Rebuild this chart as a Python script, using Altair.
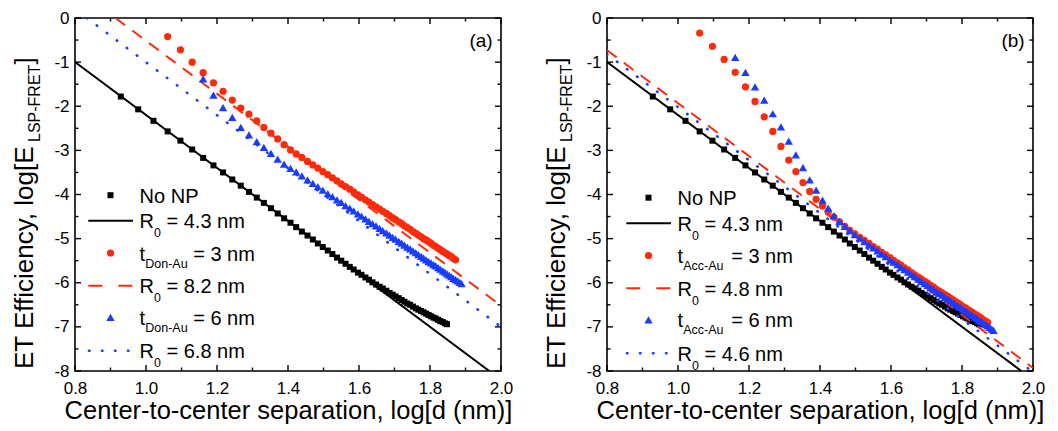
import altair as alt
import pandas as pd

# ---------------- data ----------------
# log10 of centre-to-centre separation d (nm)
X_SEP = [0.929, 0.978, 1.021, 1.061, 1.097, 1.130, 1.161, 1.190, 1.217, 1.243,
         1.267, 1.290, 1.312, 1.332, 1.352, 1.371, 1.389, 1.407, 1.423, 1.439,
         1.455, 1.470, 1.484, 1.498, 1.512, 1.525, 1.538, 1.550, 1.562, 1.574,
         1.585, 1.597, 1.607, 1.618, 1.628, 1.638, 1.648, 1.658, 1.667, 1.677,
         1.686, 1.695, 1.703, 1.712, 1.720, 1.728, 1.736, 1.744, 1.752, 1.760,
         1.767, 1.775, 1.782, 1.789, 1.796, 1.803, 1.810, 1.816, 1.823, 1.829,
         1.836, 1.842, 1.848, 1.854, 1.860, 1.866, 1.872, 1.878, 1.884, 1.889]
X_NO_NP = X_SEP[0:63]
X_T3 = X_SEP[3:67]
X_T6 = X_SEP[6:70]

NO_NP_Y = [-1.78, -2.07, -2.33, -2.57, -2.78, -2.98, -3.17, -3.34, -3.50, -3.66,
           -3.80, -3.94, -4.07, -4.19, -4.31, -4.43, -4.54, -4.64, -4.74, -4.84,
           -4.93, -5.02, -5.11, -5.19, -5.27, -5.35, -5.43, -5.50, -5.57, -5.64,
           -5.70, -5.77, -5.82, -5.88, -5.93, -5.99, -6.04, -6.09, -6.13, -6.18,
           -6.23, -6.27, -6.31, -6.35, -6.39, -6.43, -6.47, -6.50, -6.54, -6.58,
           -6.61, -6.64, -6.67, -6.70, -6.73, -6.76, -6.79, -6.81, -6.84, -6.87,
           -6.89, -6.92, -6.94]

RED_A_Y = [-0.42, -0.72, -1.00, -1.24, -1.47, -1.66, -1.86, -2.04, -2.18, -2.33,
           -2.48, -2.61, -2.74, -2.87, -2.99, -3.08, -3.16, -3.25, -3.33, -3.40,
           -3.48, -3.55, -3.62, -3.69, -3.76, -3.82, -3.88, -3.94, -4.01, -4.06,
           -4.12, -4.17, -4.23, -4.28, -4.33, -4.38, -4.43, -4.48, -4.53, -4.57,
           -4.62, -4.66, -4.71, -4.75, -4.79, -4.84, -4.88, -4.92, -4.96, -5.00,
           -5.03, -5.07, -5.11, -5.15, -5.18, -5.22, -5.25, -5.29, -5.32, -5.35,
           -5.38, -5.41, -5.45, -5.48]

BLUE_A_Y = [-1.38, -1.75, -2.03, -2.25, -2.48, -2.65, -2.80, -2.93, -3.07, -3.20,
            -3.31, -3.41, -3.49, -3.58, -3.67, -3.75, -3.82, -3.90, -3.98, -4.05,
            -4.12, -4.18, -4.25, -4.31, -4.37, -4.44, -4.49, -4.55, -4.61, -4.66,
            -4.71, -4.77, -4.82, -4.87, -4.92, -4.97, -5.01, -5.06, -5.10, -5.15,
            -5.19, -5.23, -5.28, -5.32, -5.36, -5.40, -5.44, -5.48, -5.52, -5.55,
            -5.59, -5.62, -5.66, -5.69, -5.73, -5.76, -5.80, -5.83, -5.86, -5.90,
            -5.93, -5.96, -5.99, -6.02]

RED_B_Y = [-0.34, -0.64, -0.94, -1.23, -1.56, -1.89, -2.24, -2.57, -2.91, -3.22,
           -3.48, -3.73, -3.93, -4.11, -4.26, -4.39, -4.51, -4.62, -4.72, -4.81,
           -4.89, -4.97, -5.04, -5.11, -5.18, -5.24, -5.31, -5.37, -5.43, -5.49,
           -5.55, -5.60, -5.66, -5.71, -5.77, -5.82, -5.87, -5.92, -5.97, -6.01,
           -6.06, -6.10, -6.15, -6.19, -6.23, -6.27, -6.31, -6.35, -6.39, -6.43,
           -6.46, -6.50, -6.54, -6.57, -6.61, -6.64, -6.67, -6.71, -6.74, -6.77,
           -6.80, -6.84, -6.87, -6.90]

BLUE_B_Y = [-0.89, -1.23, -1.56, -1.86, -2.17, -2.47, -2.79, -3.10, -3.39, -3.67,
            -3.90, -4.13, -4.31, -4.48, -4.61, -4.72, -4.82, -4.91, -4.99, -5.07,
            -5.14, -5.21, -5.28, -5.35, -5.41, -5.48, -5.53, -5.59, -5.65, -5.70,
            -5.76, -5.81, -5.86, -5.92, -5.97, -6.02, -6.06, -6.11, -6.15, -6.20,
            -6.24, -6.28, -6.33, -6.37, -6.41, -6.45, -6.49, -6.53, -6.56, -6.60,
            -6.64, -6.67, -6.71, -6.74, -6.78, -6.81, -6.85, -6.88, -6.91, -6.95,
            -6.98, -7.01, -7.05, -7.08]

# straight R0 fit lines (end points)
FIT_BLACK_X = [0.8, 1.967]
FIT_BLACK_Y = [-1.0, -8.0]
FIT_RED_A_X = [0.914, 2.0]
FIT_RED_A_Y = [0.0, -6.52]
FIT_BLUE_A_X = [0.833, 2.0]
FIT_BLUE_A_Y = [0.0, -7.0]
FIT_RED_B_X = [0.8, 2.0]
FIT_RED_B_Y = [-0.73, -7.93]
FIT_BLUE_B_X = [0.8, 1.996]
FIT_BLUE_B_Y = [-0.82, -8.0]

X_TICKS = [0.8, 1.0, 1.2, 1.4, 1.6, 1.8, 2.0]
X_MINOR = [0.9, 1.1, 1.3, 1.5, 1.7, 1.9]
Y_TICKS = [-8, -7, -6, -5, -4, -3, -2, -1, 0]
Y_MINOR = [-7.5, -6.5, -5.5, -4.5, -3.5, -2.5, -1.5, -0.5]

LEGEND_MAIN = ["No NP", "R", "t", "R", "t", "R"]
LEGEND_SUB_A = ["", "0", "Don-Au", "0", "Don-Au", "0"]
LEGEND_SUB_B = ["", "0", "Acc-Au", "0", "Acc-Au", "0"]
LEGEND_REST_A = ["", "= 4.3 nm", "= 3 nm", "= 8.2 nm", "= 6 nm", "= 6.8 nm"]
LEGEND_REST_B = ["", "= 4.3 nm", "= 3 nm", "= 4.8 nm", "= 6 nm", "= 4.6 nm"]
PANEL_TAGS = ["(a)", "(b)"]
X_TITLE = "Center-to-center separation, log[d (nm)]"
Y_TITLE_MAIN = "ET Efficiency, log[E"
Y_TITLE_SUB = "LSP-FRET"
Y_TITLE_END = "]"

# ---------------- style / layout ----------------
W, H = 426, 353
FONT = "Liberation Sans"
RED = "#ff2a0a"
BLUE = "#1a3cff"
XS = alt.Scale(domain=[0.8, 2.0], nice=False, zero=False)
YS = alt.Scale(domain=[-8, 0], nice=False, zero=False)
ONE = pd.DataFrame({"k": [0]})

AX_X = alt.Axis(values=X_TICKS, format=".1f", ticks=False, tickSize=0, domain=False, grid=False,
                labelFont=FONT, labelFontSize=17, labelColor="black", labelPadding=9,
                labelFlush=False, labelOverlap=False,
                title=X_TITLE, titleFont=FONT, titleFontSize=25.5, titleFontWeight="normal",
                titleColor="black", titlePadding=2)
AX_Y = alt.Axis(values=Y_TICKS, ticks=False, tickSize=0, domain=False, grid=False,
                labelExpr="datum.value < 0 ? '-' + toString(-datum.value) : toString(datum.value)",
                labelFont=FONT, labelFontSize=17, labelColor="black", labelPadding=6,
                labelFlush=False, labelOverlap=False, title="")


def xq():
    return alt.X("x:Q", scale=XS, axis=AX_X)


def yq():
    return alt.Y("y:Q", scale=YS, axis=AX_Y)


def txt(s, x, y, size, align="left", baseline="alphabetic", angle=0):
    kw = dict(align=align, baseline=baseline, font=FONT, fontSize=size, color="black")
    if angle:
        kw["angle"] = angle
    return alt.Chart(pd.DataFrame({"t": [s]})).mark_text(**kw).encode(
        x=alt.value(x), y=alt.value(y), text="t:N")


def panel(tag, red_y, blue_y, fr_x, fr_y, fb_x, fb_y, subs, rests, lx, ly):
    layers = []
    layers.append(alt.Chart(pd.DataFrame({"x": [X_TICKS[0]], "y": [Y_TICKS[0]]})).mark_point(
        opacity=0).encode(x=xq(), y=yq()))
    # inward ticks on all four sides
    for vals, ln in ((X_TICKS, 6), (X_MINOR, 3.5)):
        d = pd.DataFrame({"x": vals})
        layers.append(alt.Chart(d).mark_rule(color="black", strokeWidth=1.4).encode(
            x=xq(), y=alt.value(H), y2=alt.value(H - ln)))
        layers.append(alt.Chart(d).mark_rule(color="black", strokeWidth=1.4).encode(
            x=xq(), y=alt.value(0), y2=alt.value(ln)))
    for vals, ln in ((Y_TICKS, 6), (Y_MINOR, 3.5)):
        d = pd.DataFrame({"y": vals})
        layers.append(alt.Chart(d).mark_rule(color="black", strokeWidth=1.4).encode(
            y=yq(), x=alt.value(0), x2=alt.value(ln)))
        layers.append(alt.Chart(d).mark_rule(color="black", strokeWidth=1.4).encode(
            y=yq(), x=alt.value(W), x2=alt.value(W - ln)))

    def pts(xv, yv, shape, color, size):
        return alt.Chart(pd.DataFrame({"x": xv, "y": yv})).mark_point(
            shape=shape, filled=True, color=color, size=size, opacity=1, strokeWidth=0).encode(x=xq(), y=yq())

    def fit(xv, yv, color, dash, width, cap="butt"):
        kw = dict(color=color, strokeWidth=width, clip=True, strokeCap=cap)
        if dash:
            kw["strokeDash"] = dash
        return alt.Chart(pd.DataFrame({"x": xv, "y": yv})).mark_line(**kw).encode(x=xq(), y=yq())

    layers.append(pts(X_NO_NP, NO_NP_Y, "square", "black", 36))
    layers.append(fit(FIT_BLACK_X, FIT_BLACK_Y, "black", None, 2.0))
    layers.append(pts(X_T3, red_y, "circle", RED, 52))
    layers.append(fit(fr_x, fr_y, RED, [12, 9], 2.0))
    layers.append(pts(X_T6, blue_y, "triangle-up", BLUE, 70))
    layers.append(fit(fb_x, fb_y, BLUE, [0.5, 12], 2.6, "round"))

    # legend
    rows = [177.2, 202.7, 235.0, 267.7, 299.4, 332.7]
    sym_x = lx + 35.5
    tx = lx + 64.6
    for i, r in enumerate(rows):
        r = r + ly
        if i == 0:
            layers.append(alt.Chart(ONE).mark_point(shape="square", filled=True, color="black", size=36,
                                                    opacity=1, strokeWidth=0).encode(x=alt.value(sym_x), y=alt.value(r)))
        elif i == 1:
            layers.append(alt.Chart(ONE).mark_rule(color="black", strokeWidth=2).encode(
                x=alt.value(lx + 13.3), x2=alt.value(lx + 58), y=alt.value(r)))
        elif i == 2:
            layers.append(alt.Chart(ONE).mark_point(shape="circle", filled=True, color=RED, size=52,
                                                    opacity=1, strokeWidth=0).encode(x=alt.value(sym_x), y=alt.value(r)))
        elif i == 3:
            layers.append(alt.Chart(ONE).mark_rule(color=RED, strokeWidth=2, strokeDash=[14, 16]).encode(
                x=alt.value(lx + 13.3), x2=alt.value(lx + 58), y=alt.value(r)))
        elif i == 4:
            layers.append(alt.Chart(ONE).mark_point(shape="triangle-up", filled=True, color=BLUE, size=70,
                                                    opacity=1, strokeWidth=0).encode(x=alt.value(sym_x), y=alt.value(r)))
        else:
            layers.append(alt.Chart(ONE).mark_rule(color=BLUE, strokeWidth=2.6, strokeDash=[0.5, 12.5],
                                                   strokeCap="round").encode(
                x=alt.value(lx + 14), x2=alt.value(lx + 58), y=alt.value(r)))
        base = r + 7.5
        layers.append(txt(LEGEND_MAIN[i], tx, base, 20))
        if subs[i]:
            if subs[i] == "0":
                layers.append(txt(subs[i], tx + 14.4, base + 9, 12.4))
                layers.append(txt(rests[i], tx + 26.9, base, 20))
            else:
                layers.append(txt(subs[i], tx + 5.6, base + 7, 12.5))
                layers.append(txt(rests[i], tx + 53.6, base, 20))

    # panel tag
    layers.append(txt(tag, 406, 22.7, 19, align="center", baseline="middle"))
    # y title with subscript
    layers.append(txt(Y_TITLE_MAIN, -42, 351, 26, angle=270))
    layers.append(txt(Y_TITLE_SUB, -35, 124, 16, angle=270))
    layers.append(txt(Y_TITLE_END, -42, 46.5, 26, angle=270))

    return alt.layer(*layers).properties(width=W, height=H)


pa = panel(PANEL_TAGS[0], RED_A_Y, BLUE_A_Y, FIT_RED_A_X, FIT_RED_A_Y, FIT_BLUE_A_X, FIT_BLUE_A_Y,
           LEGEND_SUB_A, LEGEND_REST_A, 0, 0)
pb = panel(PANEL_TAGS[1], RED_B_Y, BLUE_B_Y, FIT_RED_B_X, FIT_RED_B_Y, FIT_BLUE_B_X, FIT_BLUE_B_Y,
           LEGEND_SUB_B, LEGEND_REST_B, 6, 2.5)

chart = alt.hconcat(pa, pb, spacing=29).properties(
    padding={"left": 3, "top": 0, "right": 0, "bottom": 0}
).configure_view(stroke="black", strokeWidth=1.6)

chart.save("out.html", embed_options={"renderer": "svg", "actions": False})
